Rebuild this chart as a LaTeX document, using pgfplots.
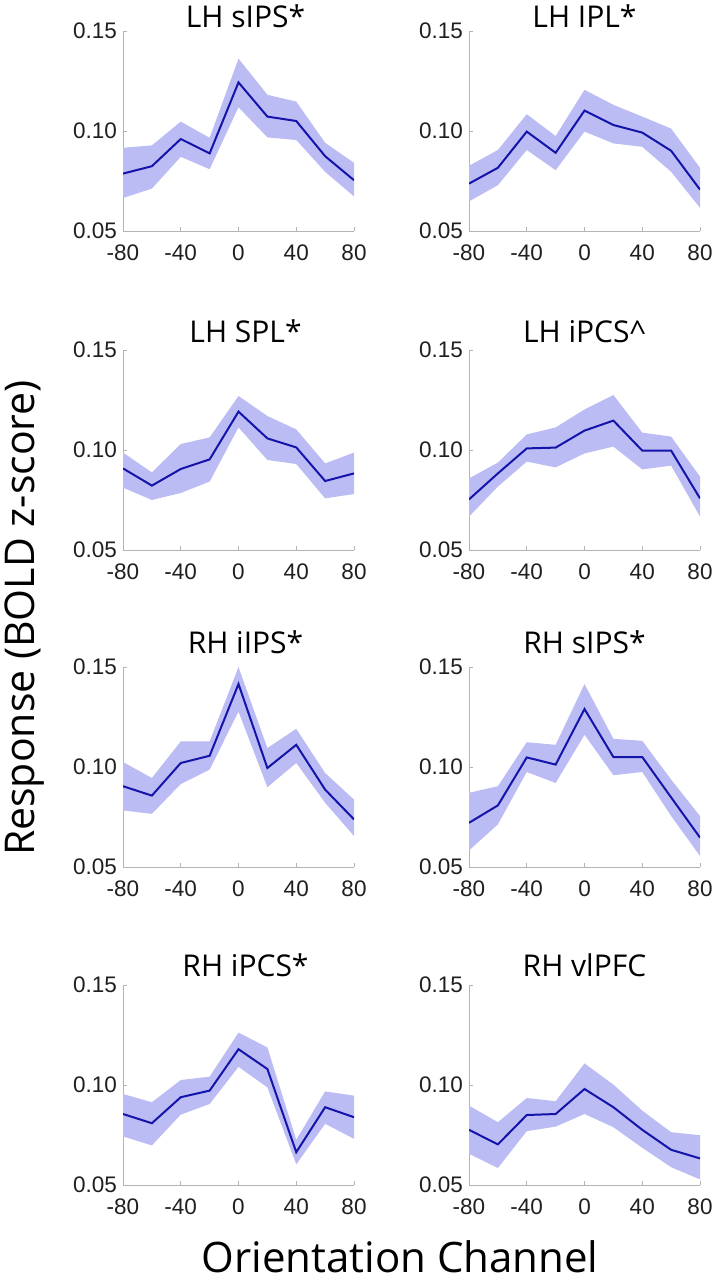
\documentclass[border=0pt]{standalone}
\usepackage{pgfplots}
\pgfplotsset{compat=1.18}
\usepackage{pgfplotstable}
\usepackage{fontspec}
\setmainfont{Liberation Sans}
\newfontfamily\titlefont{Open Sans}
\definecolor{band}{RGB}{188,188,245}
\definecolor{lineblue}{RGB}{20,20,170}
\definecolor{axgray}{RGB}{180,180,180}

\pgfplotstableread{
x m lo hi
-80 0.0787 0.0665 0.0916
-60 0.0824 0.0712 0.0928
-40 0.0960 0.0871 0.1047
-20 0.0888 0.0809 0.0966
0 0.1243 0.1119 0.1362
20 0.1072 0.0968 0.1181
40 0.1050 0.0955 0.1147
60 0.0874 0.0796 0.0941
80 0.0754 0.0673 0.0841
}\lhsips
\pgfplotstableread{
x m lo hi
-80 0.0737 0.0648 0.0826
-60 0.0816 0.0729 0.0905
-40 0.0997 0.0905 0.1084
-20 0.0891 0.0804 0.0975
0 0.1102 0.0997 0.1206
20 0.1030 0.0938 0.1131
40 0.0992 0.0921 0.1072
60 0.0901 0.0796 0.1012
80 0.0707 0.0616 0.0816
}\lhipl
\pgfplotstableread{
x m lo hi
-80 0.0908 0.0812 0.0987
-60 0.0822 0.0750 0.0888
-40 0.0905 0.0785 0.1030
-20 0.0953 0.0842 0.1063
0 0.1192 0.1113 0.1270
20 0.1058 0.0950 0.1170
40 0.1013 0.0930 0.1103
60 0.0845 0.0758 0.0933
80 0.0883 0.0780 0.0987
}\lhspl
\pgfplotstableread{
x m lo hi
-80 0.0753 0.0667 0.0858
-60 0.0883 0.0817 0.0937
-40 0.1008 0.0942 0.1078
-20 0.1012 0.0913 0.1113
0 0.1097 0.0983 0.1203
20 0.1147 0.1017 0.1275
40 0.0997 0.0903 0.1087
60 0.0997 0.0922 0.1067
80 0.0758 0.0667 0.0867
}\lhipcs
\pgfplotstableread{
x m lo hi
-80 0.0904 0.0783 0.1025
-60 0.0857 0.0766 0.0945
-40 0.1020 0.0915 0.1128
-20 0.1056 0.0987 0.1128
0 0.1415 0.1277 0.1500
20 0.0995 0.0899 0.1095
40 0.1111 0.1020 0.1191
60 0.0887 0.0821 0.0970
80 0.0738 0.0655 0.0837
}\rhiips
\pgfplotstableread{
x m lo hi
-80 0.0721 0.0583 0.0871
-60 0.0808 0.0713 0.0904
-40 0.1048 0.0975 0.1124
-20 0.1012 0.0920 0.1111
0 0.1290 0.1161 0.1415
20 0.1050 0.0959 0.1141
40 0.1050 0.0975 0.1131
60 0.0848 0.0755 0.0937
80 0.0647 0.0555 0.0755
}\rhsips
\pgfplotstableread{
x m lo hi
-80 0.0855 0.0743 0.0955
-60 0.0809 0.0698 0.0914
-40 0.0939 0.0852 0.1025
-20 0.0972 0.0905 0.1042
0 0.1179 0.1091 0.1262
20 0.1080 0.0988 0.1188
40 0.0664 0.0603 0.0726
60 0.0889 0.0806 0.0968
80 0.0839 0.0731 0.0947
}\rhipcs
\pgfplotstableread{
x m lo hi
-80 0.0776 0.0656 0.0897
-60 0.0703 0.0585 0.0814
-40 0.0850 0.0769 0.0935
-20 0.0855 0.0792 0.0919
0 0.0980 0.0855 0.1108
20 0.0889 0.0789 0.1002
40 0.0776 0.0686 0.0872
60 0.0676 0.0589 0.0764
80 0.0633 0.0528 0.0749
}\rhvlpfc

\pgfplotsset{every axis title shift=0pt,
 panel/.style={
  scale only axis, width=231pt, height=200pt, anchor=south west,
  xmin=-80, xmax=80, ymin=0.05, ymax=0.15,
  axis x line*=bottom, axis y line*=left,
  axis line style={axgray, line width=0.8pt},
  xtick={-80,-40,0,40,80}, xticklabels={-80,-40,0,40,80},
  ytick={0.05,0.10,0.15}, yticklabels={0.05,0.10,0.15},
  tick align=inside, major tick length=4pt,
  tick style={axgray, line width=0.8pt},
  ticklabel style={font=\fontsize{22.5}{24}\selectfont, text=black!88},
  xticklabel style={anchor=center, inner sep=0pt, yshift=-22pt},
  yticklabel style={anchor=east, inner sep=0pt, xshift=-6pt},
  title style={font=\titlefont\fontsize{30}{32}\selectfont, anchor=base,
    at={(axis description cs:0.5,1)}},
}}

\newcommand{\panel}[6]{%
  \begin{axis}[panel, at={(#1,#2)}, title={#4},
     title style={yshift=#5, xshift=#6}]
    \addplot[draw=none, stack plots=y, forget plot] table[x=x, y=lo] {#3};
    \addplot[fill=band, draw=none, stack plots=y, forget plot]
      table[x=x, y expr=\thisrow{hi}-\thisrow{lo}] {#3} \closedcycle;
    \addplot[lineblue, line width=2pt, stack plots=false] table[x=x, y=m] {#3};
  \end{axis}}

\begin{document}
\begin{tikzpicture}
\path[use as bounding box] (0,0) rectangle (714pt,-1280pt);
\panel{123pt}{-231pt}{\lhsips}{LH sIPS*}{4pt}{7pt}
\panel{469pt}{-231pt}{\lhipl}{LH IPL*}{4pt}{0pt}
\panel{123pt}{-550pt}{\lhspl}{LH SPL*}{8pt}{7pt}
\panel{469pt}{-550pt}{\lhipcs}{LH iPCS\textasciicircum}{8pt}{0pt}
\panel{123pt}{-867pt}{\rhiips}{RH iIPS*}{14pt}{7pt}
\panel{469pt}{-867pt}{\rhsips}{RH sIPS*}{14pt}{0pt}
\panel{123pt}{-1185pt}{\rhipcs}{RH iPCS*}{9pt}{7pt}
\panel{469pt}{-1185pt}{\rhvlpfc}{RH vlPFC}{9pt}{0pt}
\node[rotate=90, font=\titlefont\fontsize{41}{44}\selectfont] at (25pt,-618pt) {Response (BOLD z-score)};
\node[anchor=base, font=\titlefont\fontsize{42}{44}\selectfont] at (400pt,-1272pt) {Orientation Channel};
\end{tikzpicture}
\end{document}
